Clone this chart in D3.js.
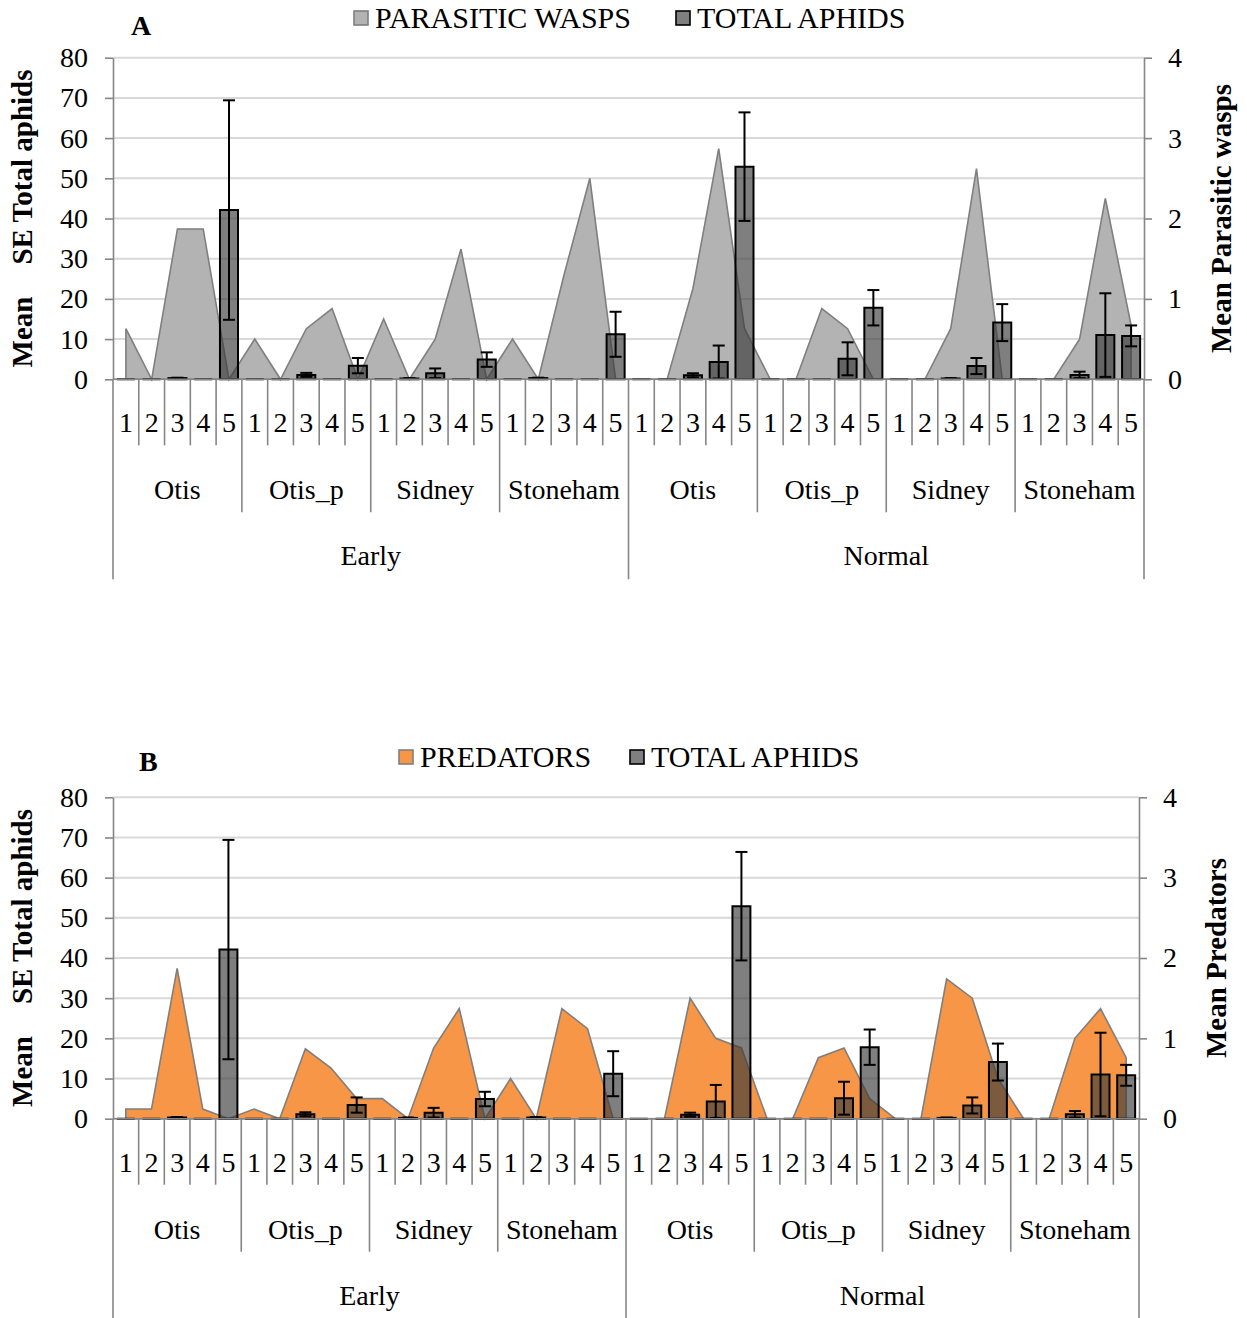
<!DOCTYPE html>
<html><head><meta charset="utf-8">
<script src="https://cdn.jsdelivr.net/npm/d3@7"></script>
<style>
body{margin:0;background:#fff}
svg{display:block}
text{font-family:"Liberation Serif","Times New Roman",serif;fill:#000}
</style>
</head><body>
<svg id="chart" width="1247" height="1318"></svg>
<script>
// ---- data ----
const timings = ["Early", "Normal"];
const varieties = ["Otis", "Otis_p", "Sidney", "Stoneham"];
const weeks = ["1", "2", "3", "4", "5"];

const aphidMean = [
  0, 0, 0.3, 0, 42.1,   0, 0, 1.1, 0, 3.4,   0, 0.2, 1.5, 0, 4.9,   0, 0.3, 0, 0, 11.2,
  0, 0, 1.0, 4.3, 52.9, 0, 0, 0, 5.1, 17.8,  0, 0, 0.2, 3.3, 14.1,  0, 0, 1.1, 11.0, 10.8
];
const aphidSE = [
  0, 0, 0.1, 0, 27.3,   0, 0, 0.5, 0, 1.9,   0, 0.1, 1.2, 0, 1.8,   0, 0.1, 0, 0, 5.6,
  0, 0, 0.5, 4.1, 13.5, 0, 0, 0, 4.1, 4.4,   0, 0, 0.1, 2.0, 4.6,   0, 0, 0.8, 10.4, 2.6
];
const waspMean = [
  0.63, 0, 1.87, 1.87, 0,  0.5, 0, 0.63, 0.88, 0,  0.75, 0, 0.5, 1.62, 0,  0.5, 0, 1.3, 2.5, 0,
  0, 0, 1.13, 2.87, 0.63,  0, 0, 0.88, 0.63, 0,    0, 0, 0.63, 2.62, 0,    0, 0, 0.5, 2.25, 0.67
];
const predatorMean = [
  0.12, 0.12, 1.87, 0.12, 0,  0.12, 0, 0.87, 0.63, 0.25,  0.25, 0, 0.88, 1.37, 0,  0.5, 0, 1.37, 1.12, 0,
  0, 0, 1.5, 1.0, 0.88,       0, 0, 0.76, 0.88, 0.25,     0, 0, 1.74, 1.5, 0.5,    0, 0, 1.0, 1.37, 0.76
];
const leftTicks = [0, 10, 20, 30, 40, 50, 60, 70, 80];
const rightTicks = [0, 1, 2, 3, 4];
const leftTitle = ["Mean", "SE Total aphids"];

const categories = [];
timings.forEach(t => varieties.forEach(v => weeks.forEach(w => categories.push(t + "|" + v + "|" + w))));

const svg = d3.select("#chart");
const FONT = 28;

function drawPanel(cfg, areaValues) {
  const g = svg.append("g");
  const x = d3.scaleBand().domain(categories).range([cfg.x0, cfg.x1]).padding(0);
  const bw = x.bandwidth();
  const cx = (c) => x(c) + bw / 2;
  const yL = d3.scaleLinear().domain([0, 80]).range([cfg.yBot, cfg.yTop]);
  const yR = d3.scaleLinear().domain([0, 4]).range([cfg.yBot, cfg.yTop]);

  // gridlines
  g.append("g").selectAll("line").data(leftTicks).join("line")
    .attr("x1", cfg.x0).attr("x2", cfg.x1)
    .attr("y1", d => yL(d)).attr("y2", d => yL(d))
    .attr("stroke", "#d9d9d9").attr("stroke-width", 2);

  // area
  const area = d3.area()
    .x((d, i) => cx(categories[i]))
    .y0(yR(0))
    .y1(d => yR(d));
  g.append("path").datum(areaValues)
    .attr("d", area)
    .attr("fill", cfg.areaFill)
    .attr("stroke", "#7f7f7f").attr("stroke-width", 1.6)
    .attr("stroke-linejoin", "miter");

  // bars
  const barW = bw * 0.7;
  g.append("g").selectAll("path").data(aphidMean).join("path")
    .attr("d", (d, i) => {
      const xl = cx(categories[i]) - barW / 2;
      return `M${xl},${yL(0)}V${yL(d)}H${xl + barW}V${yL(0)}Z`;
    })
    .attr("fill", "rgb(58,58,58)").attr("fill-opacity", 0.65)
    .attr("stroke", "#000").attr("stroke-width", 2);

  // error bars
  const eb = g.append("g").attr("stroke", "#000").attr("stroke-width", 2);
  aphidMean.forEach((m, i) => {
    const se = aphidSE[i];
    if (!se) return;
    const xc = cx(categories[i]);
    const lo = Math.max(0, m - se), hi = m + se;
    eb.append("line").attr("x1", xc).attr("x2", xc).attr("y1", yL(lo)).attr("y2", yL(hi));
    [lo, hi].forEach(v => eb.append("line").attr("x1", xc - 6).attr("x2", xc + 6).attr("y1", yL(v)).attr("y2", yL(v)));
  });

  // left axis
  const la = g.append("g").attr("transform", `translate(${cfg.x0},0)`)
    .call(d3.axisLeft(yL).tickValues(leftTicks).tickFormat(d3.format("d")).tickSize(8).tickPadding(17).tickSizeOuter(0));
  la.selectAll("path,line").attr("stroke", "#868686").attr("stroke-width", 1.6);
  la.selectAll("text").attr("font-size", FONT).attr("font-family", "Liberation Serif, Times New Roman, serif").attr("fill", "#000");

  // right axis
  const ra = g.append("g").attr("transform", `translate(${cfg.x1},0)`)
    .call(d3.axisRight(yR).tickValues(rightTicks).tickFormat(d3.format("d")).tickSize(8).tickPadding(16).tickSizeOuter(0));
  ra.selectAll("path,line").attr("stroke", "#868686").attr("stroke-width", 1.6);
  ra.selectAll("text").attr("font-size", FONT).attr("font-family", "Liberation Serif, Times New Roman, serif").attr("fill", "#000");

  // category axis
  g.append("line").attr("x1", cfg.x0).attr("x2", cfg.x1).attr("y1", yL(0)).attr("y2", yL(0))
    .attr("stroke", "#868686").attr("stroke-width", 1.6);
  const bounds = d3.range(categories.length + 1);
  g.append("g").selectAll("line").data(bounds).join("line")
    .attr("x1", j => cfg.x0 + j * bw).attr("x2", j => cfg.x0 + j * bw)
    .attr("y1", yL(0))
    .attr("y2", j => yL(0) + (j % 20 === 0 ? 200 : j % 5 === 0 ? 133 : 66))
    .attr("stroke", "#868686").attr("stroke-width", 1.6);

  // week labels
  g.append("g").selectAll("text").data(categories).join("text")
    .attr("x", c => cx(c)).attr("y", yL(0) + 53)
    .attr("text-anchor", "middle").attr("font-size", FONT)
    .text(c => c.split("|")[2]);
  // variety labels
  const vg = [];
  timings.forEach(t => varieties.forEach(v => vg.push({t, v})));
  g.append("g").selectAll("text").data(vg).join("text")
    .attr("x", d => (cx(d.t + "|" + d.v + "|1") + cx(d.t + "|" + d.v + "|5")) / 2)
    .attr("y", yL(0) + 120)
    .attr("text-anchor", "middle").attr("font-size", FONT)
    .text(d => d.v);
  // timing labels
  g.append("g").selectAll("text").data(timings).join("text")
    .attr("x", t => (cx(t + "|Otis|1") + cx(t + "|Stoneham|5")) / 2)
    .attr("y", yL(0) + 186)
    .attr("text-anchor", "middle").attr("font-size", FONT)
    .text(t => t);

  // left title
  const cyL = (cfg.yTop + cfg.yBot) / 2;
  const lt = g.append("text")
    .attr("transform", `translate(32,${cyL}) rotate(-90)`)
    .attr("text-anchor", "middle").attr("font-size", 29).attr("font-weight", "bold");
  lt.append("tspan").text(leftTitle[0]);
  lt.append("tspan").attr("dx", 32).text(leftTitle[1]);

  // right title
  g.append("text")
    .attr("transform", `translate(${cfg.rtX},${cyL}) rotate(-90)`)
    .attr("text-anchor", "middle").attr("font-size", 29).attr("font-weight", "bold")
    .text(cfg.rightTitle);

  // panel letter
  g.append("text").attr("x", cfg.letterX).attr("y", cfg.letterY)
    .attr("font-size", 28).attr("font-weight", "bold").text(cfg.letter);

  // legend
  cfg.legend.forEach(L => {
    g.append("rect").attr("x", L.x).attr("y", cfg.legendY - 7).attr("width", 14).attr("height", 14)
      .attr("fill", L.fill).attr("fill-opacity", L.op || 1)
      .attr("stroke", L.stroke).attr("stroke-width", 1.6);
    g.append("text").attr("x", L.x + 21).attr("y", cfg.legendY + 10)
      .attr("font-size", 30).text(L.label);
  });
}

drawPanel({
  x0: 113, x1: 1144, yTop: 57.7, yBot: 379.3,
  areaFill: "#b3b3b3", rightTitle: "Mean Parasitic wasps", rtX: 1231,
  letter: "A", letterX: 131, letterY: 35, legendY: 18,
  legend: [
    {x: 354, label: "PARASITIC WASPS", fill: "#b3b3b3", stroke: "#7f7f7f"},
    {x: 676, label: "TOTAL APHIDS", fill: "rgb(58,58,58)", op: 0.65, stroke: "#000"}
  ]
}, waspMean);

drawPanel({
  x0: 113, x1: 1139, yTop: 797.3, yBot: 1118.7,
  areaFill: "#f79646", rightTitle: "Mean Predators", rtX: 1226,
  letter: "B", letterX: 139, letterY: 771, legendY: 757,
  legend: [
    {x: 399, label: "PREDATORS", fill: "#f79646", stroke: "#7f7f7f"},
    {x: 630, label: "TOTAL APHIDS", fill: "rgb(58,58,58)", op: 0.65, stroke: "#000"}
  ]
}, predatorMean);
</script>
</body></html>
